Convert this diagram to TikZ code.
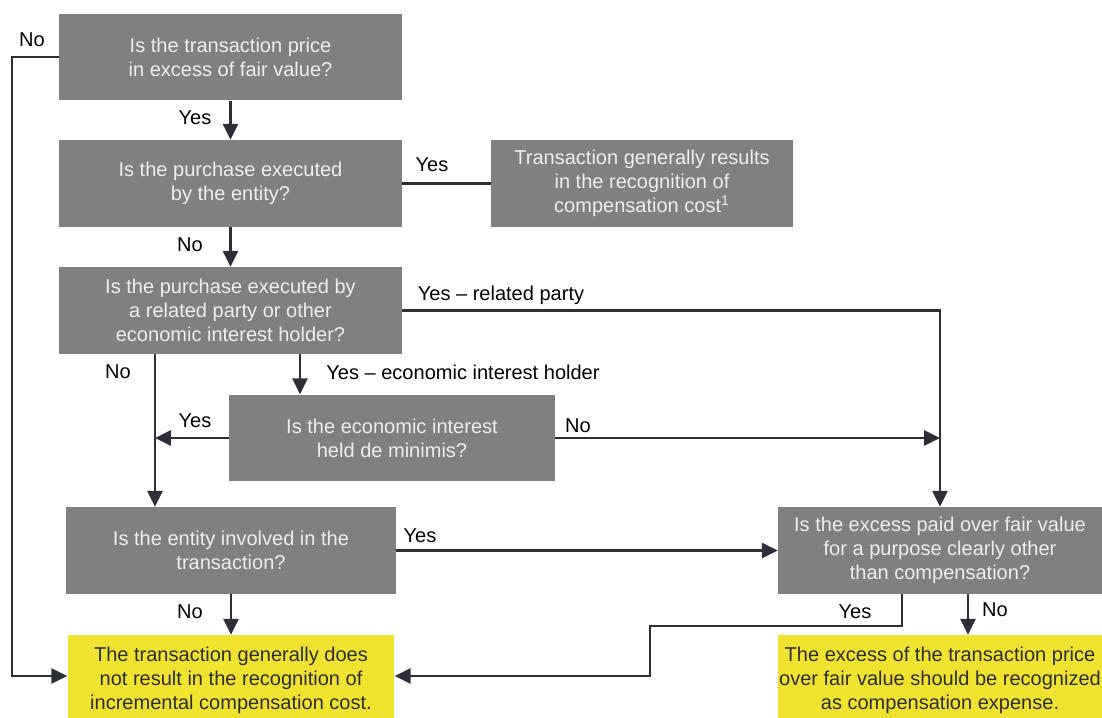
\documentclass[tikz,border=0pt]{standalone}
\usepackage{fontspec}
\setmainfont{Liberation Sans}
\usetikzlibrary{arrows.meta}
\definecolor{boxgray}{RGB}{128,128,128}
\definecolor{eyyellow}{RGB}{240,227,48}
\definecolor{linedark}{RGB}{46,46,56}
\begin{document}
\begin{tikzpicture}[x=0.02cm,y=-0.02cm,>={Triangle[length=9pt,width=8.5pt]},line join=miter,font=\fontsize{11.4}{13.6}\selectfont,
	qbox/.style={fill=boxgray,text=white!93!black,align=center,inner sep=0pt,minimum height=1.74cm},
	endbox/.style={fill=eyyellow,text=linedark,align=center,inner sep=0pt,minimum height=1.8cm},
	conn/.style={draw=linedark,line width=1.5pt},
	lbl/.style={text=black,inner sep=0pt}]
				\useasboundingbox (0,0) rectangle (1102,717);
				% questions and outcomes
				\node[qbox,minimum width=6.86cm] (price) at (230.5,57) {Is the transaction price\\in excess of fair value?};
				\node[qbox,minimum width=6.86cm] (entity) at (230.5,183.5) {Is the purchase executed\\by the entity?};
				\node[qbox,minimum width=6.04cm] (cost) at (642,183.5) {Transaction generally results\\in the recognition of\\compensation cost\textsuperscript{1}};
				\node[qbox,minimum width=6.86cm] (party) at (230.5,310.5) {Is the purchase executed by\\a related party or other\\economic interest holder?};
				\node[qbox,minimum width=6.52cm] (minimis) at (392,438) {Is the economic interest\\held de minimis?};
				\node[qbox,minimum width=6.6cm] (involved) at (231,550.5) {Is the entity involved in the\\transaction?};
				\node[qbox,minimum width=6.48cm] (purpose) at (940,550.5) {Is the excess paid over fair value\\for a purpose clearly other\\than compensation?};
				\node[endbox,minimum width=6.54cm] (nocost) at (231,680) {The transaction generally does\\not result in the recognition of\\incremental compensation cost.};
				\node[endbox,minimum width=6.48cm] (expense) at (940,680) {The excess of the transaction price\\over fair value should be recognized\\as compensation expense.};
				% rails
				\coordinate (leftrail) at (12,0);
				\coordinate (norail) at (155,0);
				\coordinate (ecorail) at (300,0);
				\coordinate (yesdrop) at (902,0);
				\coordinate (nodrop) at (968,0);
				\coordinate (jog) at (650,626);
				\coordinate (landing) at (0,676);
				\draw[conn,->] (price.west) -- (leftrail |- price.west) |- (nocost.west |- landing);
				\draw[conn,->] (price) -- (entity);
				\draw[conn] (entity) -- (cost);
				\draw[conn,->] (entity) -- (party);
				\draw[conn,->] (party.east) -| (purpose.north);
				\draw[conn,->] (ecorail |- party.south) -- (ecorail |- minimis.north);
				\draw[conn,->] (norail |- party.south) -- (norail |- involved.north);
				\draw[conn,->] (minimis.west) -- (norail |- minimis.west);
				\draw[conn,->] (minimis.east) -- (purpose.north |- minimis.east);
				\draw[conn,->] (involved) -- (purpose);
				\draw[conn,->] (involved) -- (nocost);
				\draw[conn,->] (yesdrop |- purpose.south) |- (jog) |- (nocost.east |- landing);
				\draw[conn,->] (nodrop |- purpose.south) -- (nodrop |- expense.north);
				% labels
				\node[lbl] (no1) at (32,40) {No};
				\node[lbl] (yes1) at (195,118) {Yes};
				\node[lbl] (yes2) at (432,165) {Yes};
				\node[lbl] (no2) at (190,245) {No};
				\node[lbl] (yes3) at (501,295) {Yes \textendash\ related party};
				\node[lbl] (no3) at (118,372) {No};
				\node[lbl] (yes4) at (463,372) {Yes \textendash\ economic interest holder};
				\node[lbl] (yes5) at (195,421) {Yes};
				\node[lbl] (no4) at (578,426) {No};
				\node[lbl] (yes6) at (420,536) {Yes};
				\node[lbl] (no5) at (190,612) {No};
				\node[lbl] (yes7) at (855,612) {Yes};
				\node[lbl] (no6) at (995,610) {No};
			\end{tikzpicture}
\end{document}
